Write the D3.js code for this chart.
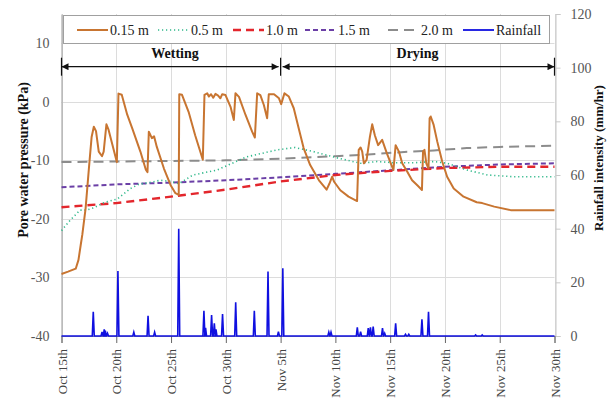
<!DOCTYPE html>
<html>
<head>
<meta charset="utf-8">
<script src="https://cdn.jsdelivr.net/npm/d3@7"></script>
<style>
  html, body { margin: 0; padding: 0; background: #fff; }
  svg { display: block; font-family: "Liberation Serif", "Times New Roman", serif; }
</style>
</head>
<body>
<svg id="chart" width="615" height="401"></svg>
<script>
// Day offsets from Oct 15th; tick labels every 5 days
const tickDays = [0, 5, 10, 15, 20, 25, 30, 35, 40, 45];
const tickLabels = ["Oct 15th", "Oct 20th", "Oct 25th", "Oct 30th", "Nov 5th",
                    "Nov 10th", "Nov 15th", "Nov 20th", "Nov 25th", "Nov 30th"];
const leftTicks = [-40, -30, -20, -10, 0, 10];
const rightTicks = [0, 20, 40, 60, 80, 100, 120];

// Pore water pressure (kPa) by depth: [day, value]
const pwp015 = [
  [0,-29.4],[0.6,-29.0],[1.3,-28.5],[1.55,-27.0],[1.75,-24.5],[1.9,-22.7],[2.2,-18.2],[2.5,-11.4],
  [2.75,-6.0],[2.95,-4.25],[3.15,-5.0],[3.4,-8.5],[3.7,-9.3],[3.85,-8.5],[4.1,-3.85],[4.3,-4.8],
  [4.6,-7.0],[5.05,-10.3],[5.2,1.4],[5.5,1.2],[6.0,-2.2],[6.45,-4.5],[7.2,-8.5],[7.7,-11.6],
  [7.85,-12.0],[7.97,-5.1],[8.25,-6.2],[8.45,-5.9],[8.7,-7.7],[9.35,-11.4],[9.95,-14.2],[10.4,-15.6],
  [10.7,-15.9],[10.75,1.3],[11.0,1.2],[11.6,-1.7],[12.2,-5.7],[12.9,-9.9],[13.05,1.2],[13.3,1.45],
  [13.45,0.9],[13.65,1.3],[13.85,0.7],[14.05,1.35],[14.3,1.05],[14.5,0.6],[14.67,1.3],[14.97,1.15],
  [15.43,-0.85],[15.73,-3.1],[15.88,1.45],[16.2,0.85],[16.8,-2.25],[17.4,-5.1],[17.65,-6.1],[17.86,1.45],
  [18.15,1.15],[18.47,-0.55],[18.77,-2.8],[18.92,1.3],[19.4,1.3],[19.85,0.6],[20.05,-0.4],[20.15,0.2],
  [20.35,1.45],[20.75,0.9],[21.2,-1.1],[21.65,-4.5],[22.1,-7.9],[22.7,-10.8],[23.5,-13.4],[24.2,-15.0],
  [24.45,-14.0],[24.7,-12.8],[24.9,-13.7],[25.45,-15.1],[26.2,-16.2],[26.98,-16.95],[27.13,-8.2],[27.3,-7.8],
  [27.45,-8.5],[27.6,-10.5],[27.85,-9.9],[28.15,-6.0],[28.36,-3.85],[28.6,-5.7],[28.9,-7.4],[29.27,-6.5],
  [29.7,-8.8],[30.3,-11.65],[30.5,-7.4],[30.8,-8.5],[31.1,-10.5],[31.55,-11.9],[32.0,-13.4],[32.5,-14.3],
  [32.9,-15.05],[33.0,-8.5],[33.13,-8.2],[33.3,-10.5],[33.5,-11.4],[33.6,-2.8],[33.7,-2.5],[33.97,-3.95],
  [34.3,-6.8],[34.75,-10.2],[35.2,-12.8],[35.8,-14.8],[36.7,-16.2],[37.9,-17.15],[38.4,-17.3],[39.5,-17.9],
  [41.0,-18.5],[45,-18.5]
];
const pwp05 = [
  [0,-22.0],[0.8,-20.2],[1.7,-18.5],[2.3,-18.5],[2.95,-18.1],[3.9,-17.2],[5.1,-16.6],[6.3,-14.8],
  [7.05,-14.1],[8.4,-13.65],[9.0,-13.4],[10.0,-13.6],[10.7,-14.0],[12.0,-12.5],[14.2,-11.65],[16.9,-9.4],
  [19.7,-8.2],[21.3,-7.8],[23.0,-8.5],[25.2,-9.6],[27.3,-10.5],[28.8,-10.2],[30.3,-10.4],[32.2,-10.4],
  [34.0,-10.2],[35.2,-10.5],[37.0,-11.65],[38.9,-12.5],[41.3,-12.8],[45,-12.8]
];
const pwp10 = [[0,-18.0],[5,-17.3],[10,-16.2],[15,-15.0],[20,-13.6],[25,-12.5],[30,-11.8],[35,-11.3],[40,-11.1],[45,-11.1]];
const pwp15 = [[0,-14.6],[5,-14.1],[10,-13.8],[15,-13.4],[20,-12.9],[25,-12.3],[30,-11.7],[35,-11.1],[40,-10.7],[45,-10.5]];
const pwp20 = [[0,-10.3],[5,-10.2],[10,-10.1],[15,-10.0],[20,-9.7],[25,-9.3],[28,-9.0],[31,-8.6],[34,-8.3],[37,-7.9],[40,-7.7],[45,-7.5]];

// Rainfall events (mm/hr)
const rainDays = [2.9,3.7,3.9,4.0,4.2,5.15,6.6,7.9,8.5,10.7,13.0,13.15,13.7,13.95,14.1,14.7,15.9,17.6,18.85,
                  19.8,20.2,24.4,24.6,27.0,27.3,28.0,28.2,28.45,29.3,29.5,30.5,31.4,31.7,32.9,33.5,37.8,38.4];
const rainValues = [9.0,1.5,2.5,2.0,1.0,24.2,1.4,7.5,1.4,40,9.4,3.0,7.8,4.7,2.5,8.2,12.6,9.4,24.0,
                    1.6,25.2,1.4,1.4,3.2,1.6,2.9,3.2,3.5,2.9,1.0,4.7,0.6,0.6,6.2,9.0,0.4,0.4];

const series = [
  { name: "0.15 m", data: pwp015, color: "#c87531", width: 2, dash: null },
  { name: "0.5 m",  data: pwp05,  color: "#2fb88a", width: 1.6, dash: "1.2,2.8" },
  { name: "1.0 m",  data: pwp10,  color: "#e3262c", width: 2.4, dash: "8,5" },
  { name: "1.5 m",  data: pwp15,  color: "#6b3fa6", width: 2, dash: "5,3" },
  { name: "2.0 m",  data: pwp20,  color: "#8c8c8c", width: 2, dash: "10,6" }
];

const svg = d3.select("#chart");
const plot = { left: 61.5, right: 554.5, top: 14, bottom: 336 };

const x = d3.scaleLinear().domain([0, 45]).range([plot.left, plot.right]);
const yL = d3.scaleLinear().domain([-40, 15]).range([plot.bottom, plot.top]);
const yR = d3.scaleLinear().domain([0, 120]).range([plot.bottom, plot.top]);

// Grid
const grid = svg.append("g").attr("stroke", "#dcdcdc").attr("stroke-width", 1);
grid.selectAll("line.h").data(leftTicks).join("line")
  .attr("x1", plot.left).attr("x2", plot.right)
  .attr("y1", d => Math.round(yL(d)) + 0.5).attr("y2", d => Math.round(yL(d)) + 0.5);
grid.selectAll("line.v").data(tickDays).join("line")
  .attr("x1", d => Math.round(x(d)) + 0.5).attr("x2", d => Math.round(x(d)) + 0.5)
  .attr("y1", plot.top).attr("y2", plot.bottom);

// Left axis (plain hyphen for negatives)
const axL = svg.append("g").attr("transform", `translate(${plot.left},0)`)
  .call(d3.axisLeft(yL).tickValues(leftTicks).tickFormat(d => String(d)).tickSize(0).tickPadding(12));
axL.select(".domain").attr("stroke", "#9a9a9a");
axL.selectAll("text").attr("font-size", 14).attr("fill", "#555").attr("font-family", "Liberation Serif, serif");

// Right axis
const axR = svg.append("g").attr("transform", `translate(${plot.right + 1},0)`)
  .call(d3.axisRight(yR).tickValues(rightTicks).tickSize(5).tickPadding(10));
axR.select(".domain").attr("stroke", "#c8c8c8");
axR.selectAll(".tick line").attr("stroke", "#c8c8c8");
axR.selectAll("text").attr("font-size", 14).attr("fill", "#555").attr("font-family", "Liberation Serif, serif");

// Bottom axis
const axB = svg.append("g").attr("transform", `translate(0,${plot.bottom})`)
  .call(d3.axisBottom(x).tickValues(tickDays).tickFormat((d, i) => tickLabels[i]).tickSize(7).tickPadding(6));
axB.select(".domain").attr("stroke", "#9a9a9a");
axB.selectAll(".tick line").attr("stroke", "#666");
axB.selectAll("text")
  .attr("font-size", 13).attr("fill", "#444").attr("font-family", "Liberation Serif, serif")
  .attr("text-anchor", "end").attr("dy", "0.35em")
  .attr("transform", "rotate(-90)").attr("x", -13).attr("y", 0);

// Rainfall line: spikes rising from zero
const rainPts = [[0, 0]];
rainDays.forEach((d, i) => {
  rainPts.push([d - 0.09, 0], [d, rainValues[i]], [d + 0.09, 0]);
});
rainPts.push([45, 0]);
svg.append("path").datum(rainPts)
  .attr("fill", "none").attr("stroke", "#1010e0").attr("stroke-width", 1.6)
  .attr("stroke-linejoin", "miter")
  .attr("d", d3.line().x(d => x(d[0])).y(d => yR(d[1])));

// Pore water pressure lines
const line = d3.line().x(d => x(d[0])).y(d => yL(d[1]));
series.slice().reverse().forEach(s => {
  svg.append("path").datum(s.data)
    .attr("fill", "none").attr("stroke", s.color).attr("stroke-width", s.width)
    .attr("stroke-dasharray", s.dash).attr("stroke-linejoin", "round")
    .attr("d", line);
});

// Wetting / Drying annotation
const defs = svg.append("defs");
["start", "end"].forEach(k => {
  defs.append("marker").attr("id", "arr-" + k)
    .attr("viewBox", "0 0 10 10").attr("refX", k === "end" ? 10 : 0).attr("refY", 5)
    .attr("markerWidth", 8).attr("markerHeight", 7).attr("markerUnits", "userSpaceOnUse")
    .attr("orient", "auto")
    .append("path").attr("d", k === "end" ? "M0,0L10,5L0,10Z" : "M10,0L0,5L10,10Z").attr("fill", "#111");
});
const ay = yL(6);
const phases = [
  { label: "Wetting", from: 0, to: 20 },
  { label: "Drying", from: 20, to: 45 }
];
phases.forEach((p, i) => {
  const x0 = x(p.from) + (i === 1 ? 2 : 0);
  const x1 = x(p.to) - (i === 0 ? 2 : 0);
  svg.append("line").attr("x1", x0).attr("x2", x1).attr("y1", ay).attr("y2", ay)
    .attr("stroke", "#111").attr("stroke-width", 1.2)
    .attr("marker-start", "url(#arr-start)").attr("marker-end", "url(#arr-end)");
  svg.append("text").attr("x", (x(p.from) + x(p.to)) / 2 + (i === 0 ? 4 : 0)).attr("y", ay - 9)
    .attr("text-anchor", "middle").attr("font-size", 14).attr("font-weight", "bold").attr("fill", "#111")
    .text(p.label);
});
[0, 20, 45].forEach(d => {
  svg.append("line").attr("x1", x(d)).attr("x2", x(d)).attr("y1", ay - 9).attr("y2", ay + 9)
    .attr("stroke", "#111").attr("stroke-width", 1.2);
});

// Legend
const lg = svg.append("g");
lg.append("rect").attr("x", 63.5).attr("y", 15.5).attr("width", 486).attr("height", 28)
  .attr("fill", "#fff").attr("stroke", "#a0a0a0").attr("stroke-width", 1);
const legendItems = series.map(s => ({ name: s.name, color: s.color, width: s.width, dash: s.dash }))
  .concat([{ name: "Rainfall", color: "#1010e0", width: 1.8, dash: null }]);
const legendX = [77, 158, 233, 305, 388, 463];
legendItems.forEach((it, i) => {
  const lx = legendX[i];
  lg.append("line").attr("x1", lx).attr("x2", lx + 31).attr("y1", 30).attr("y2", 30)
    .attr("stroke", it.color).attr("stroke-width", it.width).attr("stroke-dasharray", it.dash);
  lg.append("text").attr("x", lx + 33).attr("y", 30).attr("dy", "0.35em")
    .attr("font-size", 14).attr("fill", "#222").text(it.name);
});

// Axis titles
svg.append("text").attr("transform", "translate(23,160) rotate(-90)")
  .attr("text-anchor", "middle").attr("dy", "0.35em")
  .attr("font-size", 14).attr("font-weight", "bold").attr("fill", "#111")
  .text("Pore water pressure (kPa)");
svg.append("text").attr("transform", "translate(598,158) rotate(-90)")
  .attr("text-anchor", "middle").attr("dy", "0.35em")
  .attr("font-size", 13).attr("font-weight", "bold").attr("fill", "#111")
  .text("Rainfall intensity (mm/hr)");
</script>
</body>
</html>
